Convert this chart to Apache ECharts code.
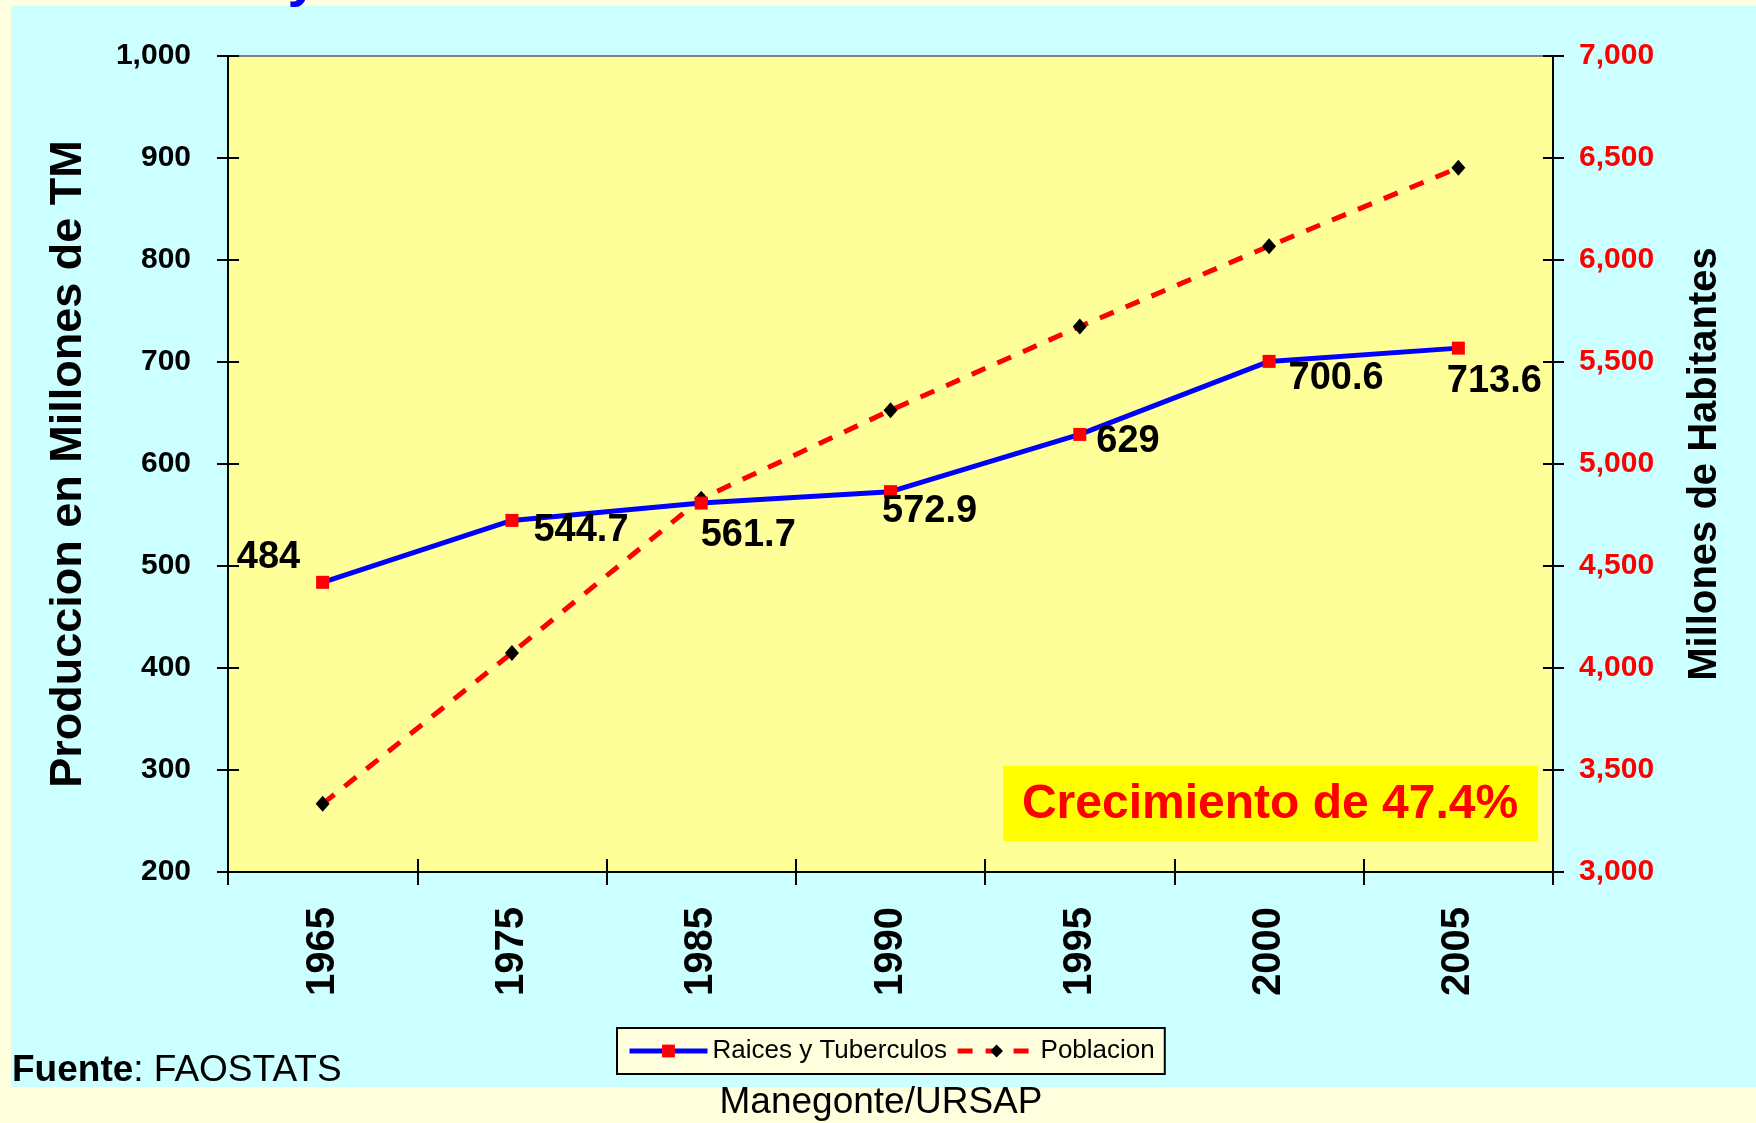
<!DOCTYPE html>
<html>
<head>
<meta charset="utf-8">
<script src="https://cdn.jsdelivr.net/npm/echarts@6/dist/echarts.min.js"></script>
<style>
html,body{margin:0;padding:0;background:#FFFFDD;}
#chart{width:1756px;height:1123px;}
</style>
</head>
<body>
<div id="chart"></div>
<script>
// ---- data ----
const years = ['1965', '1975', '1985', '1990', '1995', '2000', '2005'];
const raices = [484, 544.7, 561.7, 572.9, 629, 700.6, 713.6];
const poblacion = [3334, 4074, 4830, 5263, 5674, 6068, 6452];
const leftTicks = { min: 200, max: 1000, interval: 100 };
const rightTicks = { min: 3000, max: 7000, interval: 500 };
const seriesNames = ['Raices y Tuberculos', 'Poblacion'];
const leftAxisName = 'Produccion en Millones de TM';
const rightAxisName = 'Millones de Habitantes';
const noteText = 'Crecimiento de 47.4%';
const sourceLabel = 'Fuente';
const sourceText = ': FAOSTATS';
const footerText = 'Manegonte/URSAP';

// ---- label placement (style only) ----
const labelPlacement = [
  { pos: 'left', off: [-16, -25] },
  { pos: 'right', off: [15, 10] },
  { pos: 'right', off: [-7, 32] },
  { pos: 'right', off: [-15, 20] },
  { pos: 'right', off: [10, 7] },
  { pos: 'right', off: [13, 17] },
  { pos: 'right', off: [-18, 33] }
];

const FONT = '"Liberation Sans", Arial, sans-serif';
const fmt = v => String(v).replace(/\B(?=(\d{3})+(?!\d))/g, ',');

const raicesData = raices.map((v, i) => ({
  value: v,
  label: { position: labelPlacement[i].pos, offset: labelPlacement[i].off }
}));

const chart = echarts.init(document.getElementById('chart'), null, { renderer: 'canvas' });

const tickStyle = { color: '#000', width: 2 };

chart.setOption({
  backgroundColor: '#FFFFDD',
  animation: false,
  textStyle: { fontFamily: FONT },
  grid: {
    left: 228, right: 203, top: 56, bottom: 251,
    show: true, backgroundColor: '#FFFF99', borderColor: '#808080', borderWidth: 2,
    containLabel: false
  },
  legend: {
    left: 617, top: 1028,
    padding: [10, 10, 10, 10],
    itemGap: 8,
    itemWidth: 78, itemHeight: 16,
    backgroundColor: '#FFFFDD',
    borderColor: '#000', borderWidth: 2, borderRadius: 0,
    textStyle: { fontFamily: FONT, fontSize: 26, color: '#000' },
    data: [
      { name: seriesNames[0], lineStyle: { width: 5 } },
      { name: seriesNames[1], lineStyle: { width: 5 } }
    ]
  },
  xAxis: [
    {
      type: 'category', data: years, boundaryGap: true, position: 'bottom',
      axisLine: { show: true, lineStyle: { color: '#000', width: 2 } },
      axisTick: { show: true, length: 13, lineStyle: tickStyle },
      axisLabel: { rotate: 90, margin: 35, fontSize: 40, fontWeight: 'bold', color: '#000', fontFamily: FONT },
      splitLine: { show: false }
    },
    {
      type: 'category', data: years, boundaryGap: true, position: 'bottom',
      axisLine: { show: false },
      axisTick: { show: true, inside: true, length: 13, lineStyle: tickStyle },
      axisLabel: { show: false },
      splitLine: { show: false }
    }
  ],
  yAxis: [
    {
      type: 'value', position: 'left', min: leftTicks.min, max: leftTicks.max, interval: leftTicks.interval,
      name: leftAxisName, nameLocation: 'middle', nameRotate: 90, nameGap: 137,
      nameTextStyle: { fontSize: 45, fontWeight: 'bold', color: '#000', fontFamily: FONT },
      axisLine: { show: true, lineStyle: { color: '#000', width: 2 } },
      axisTick: { show: true, length: 11, lineStyle: tickStyle },
      axisLabel: { margin: 37, fontSize: 30, fontWeight: 'bold', color: '#000', fontFamily: FONT, formatter: fmt },
      splitLine: { show: false }
    },
    {
      type: 'value', position: 'right', min: rightTicks.min, max: rightTicks.max, interval: rightTicks.interval,
      name: rightAxisName, nameLocation: 'middle', nameRotate: 90, nameGap: 132,
      nameTextStyle: { fontSize: 40, fontWeight: 'bold', color: '#000', fontFamily: FONT },
      axisLine: { show: true, lineStyle: { color: '#000', width: 2 } },
      axisTick: { show: true, length: 11, lineStyle: tickStyle },
      axisLabel: { margin: 26, fontSize: 30, fontWeight: 'bold', color: '#FF0000', fontFamily: FONT, formatter: fmt },
      splitLine: { show: false }
    },
    {
      type: 'value', position: 'left', min: leftTicks.min, max: leftTicks.max, interval: leftTicks.interval,
      axisLine: { show: false },
      axisTick: { show: true, inside: true, length: 11, lineStyle: tickStyle },
      axisLabel: { show: false }, splitLine: { show: false }
    },
    {
      type: 'value', position: 'right', min: rightTicks.min, max: rightTicks.max, interval: rightTicks.interval,
      axisLine: { show: false },
      axisTick: { show: true, inside: true, length: 10, lineStyle: tickStyle },
      axisLabel: { show: false }, splitLine: { show: false }
    }
  ],
  series: [
    {
      name: seriesNames[0], type: 'line', xAxisIndex: 0, yAxisIndex: 0,
      data: raicesData,
      symbol: 'rect', symbolSize: 13,
      itemStyle: { color: '#FF0000' },
      lineStyle: { color: '#0000FF', width: 5 },
      label: {
        show: true, distance: 0, fontSize: 38, fontWeight: 'bold', color: '#000', fontFamily: FONT
      },
      z: 3
    },
    {
      name: seriesNames[1], type: 'line', xAxisIndex: 0, yAxisIndex: 1,
      data: poblacion,
      symbol: 'diamond', symbolSize: [14, 16],
      itemStyle: { color: '#000' },
      lineStyle: { color: '#FF0000', width: 5, type: [15, 13] },
      z: 2
    }
  ],
  graphic: [
    {
      type: 'rect', z: -100, silent: true,
      shape: { x: 11, y: 6, width: 1745, height: 1081 },
      style: { fill: '#CCFFFF' }
    },
    {
      type: 'text', z: -50, silent: true,
      style: { text: 'y', x: 303, y: 8, fill: '#0000FF', font: 'bold 56px ' + FONT, textAlign: 'center', textVerticalAlign: 'bottom' }
    },
    {
      type: 'rect', z: 50, silent: true,
      shape: { x: 1003, y: 766, width: 535, height: 75 },
      style: { fill: '#FFFF00' }
    },
    {
      type: 'text', z: 51, silent: true,
      style: { text: noteText, x: 1270, y: 805, fill: '#FF0000', font: 'bold 48px ' + FONT, textAlign: 'center', textVerticalAlign: 'middle' }
    },
    {
      type: 'text', z: 51, silent: true,
      style: {
        text: '{b|' + sourceLabel + '}{r|' + sourceText + '}', x: 12, y: 1071, textVerticalAlign: 'middle',
        rich: {
          b: { fontFamily: FONT, fontSize: 37, fontWeight: 'bold', fill: '#000', color: '#000' },
          r: { fontFamily: FONT, fontSize: 37, fill: '#000', color: '#000' }
        }
      }
    },
    {
      type: 'text', z: 51, silent: true,
      style: { text: footerText, x: 881, y: 1103, fill: '#000', font: '37px ' + FONT, textAlign: 'center', textVerticalAlign: 'middle' }
    }
  ]
});
</script>
</body>
</html>
